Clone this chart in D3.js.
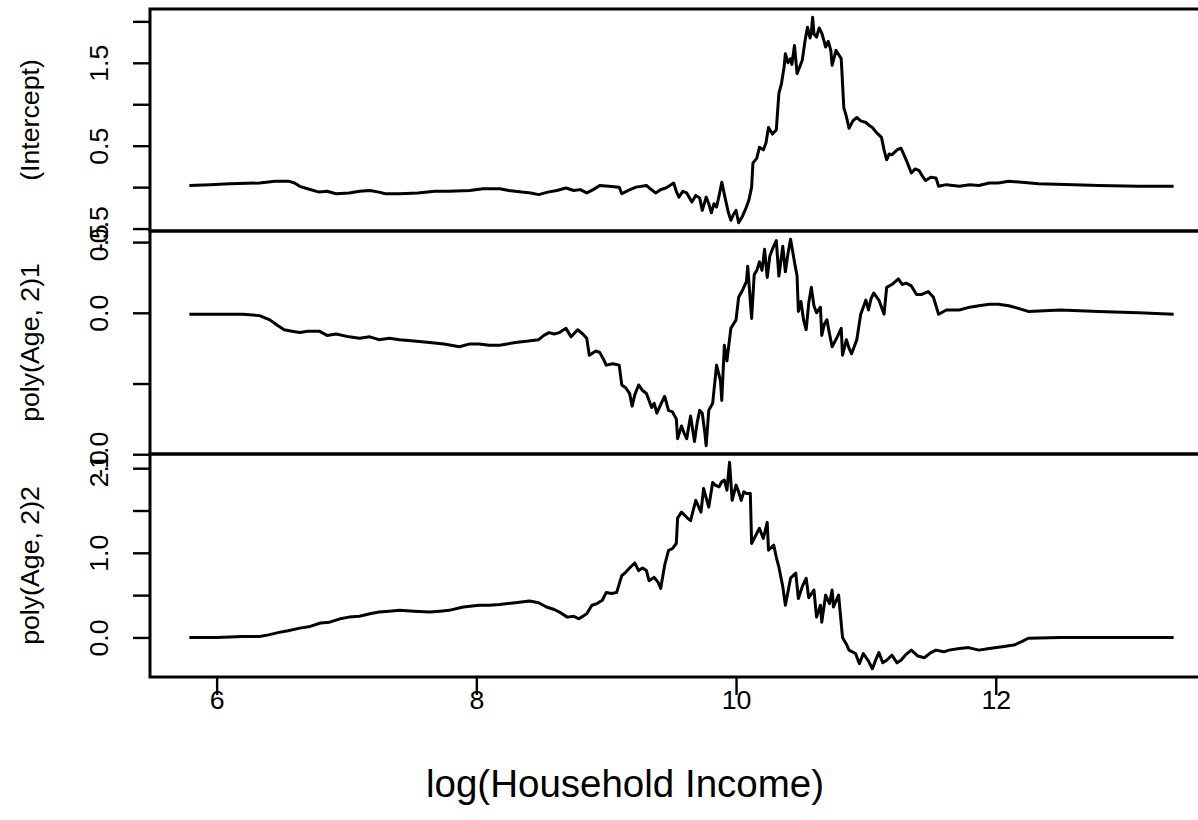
<!DOCTYPE html>
<html>
<head>
<meta charset="utf-8">
<script src="https://cdn.jsdelivr.net/npm/d3@7"></script>
<style>
  body { margin: 0; background: #fff; }
  text { font-family: "Liberation Sans", Arial, sans-serif; fill: #000; }
</style>
</head>
<body>
<div id="chart"></div>
<script>
// coefficient paths against log(Household Income), three stacked panels

const xTicks = [6, 8, 10, 12];

const interceptX = [5.79, 5.95, 6.10, 6.33, 6.45, 6.56, 6.60, 6.64, 6.70, 6.79, 6.85, 6.92, 7.02, 7.10, 7.18, 7.25, 7.30, 7.41, 7.55, 7.68,
  7.79, 7.95, 8.05, 8.18, 8.25, 8.35, 8.42, 8.48, 8.55, 8.62, 8.69, 8.75, 8.80, 8.85, 8.90, 8.95, 9.02, 9.10, 9.12, 9.17,
  9.23, 9.31, 9.34, 9.38, 9.42, 9.46, 9.52, 9.54, 9.56, 9.59, 9.62, 9.66, 9.69, 9.72, 9.74, 9.77, 9.79, 9.81, 9.83, 9.85,
  9.87, 9.89, 9.92, 9.94, 9.96, 9.98, 10.00, 10.02, 10.05, 10.08, 10.10, 10.12, 10.13, 10.16, 10.18, 10.21, 10.23, 10.25, 10.28, 10.31,
  10.33, 10.35, 10.37, 10.38, 10.40, 10.42, 10.43, 10.45, 10.47, 10.49, 10.51, 10.53, 10.55, 10.57, 10.58, 10.59, 10.60, 10.62, 10.64, 10.66,
  10.68, 10.69, 10.71, 10.73, 10.74, 10.77, 10.79, 10.81, 10.83, 10.85, 10.87, 10.90, 10.93, 10.96, 11.00, 11.03, 11.05, 11.08, 11.12, 11.14,
  11.16, 11.18, 11.20, 11.24, 11.27, 11.29, 11.31, 11.33, 11.35, 11.38, 11.41, 11.44, 11.46, 11.50, 11.54, 11.56, 11.62, 11.72, 11.80, 11.87,
  11.95, 12.02, 12.10, 12.20, 12.33, 12.60, 12.79, 13.10, 13.37];
const interceptY = [0.02, 0.03, 0.04, 0.05, 0.07, 0.07, 0.05, 0.01, -0.02, -0.06, -0.05, -0.08, -0.07, -0.05, -0.04, -0.06, -0.08, -0.08, -0.07, -0.05,
  -0.05, -0.04, -0.02, -0.02, -0.04, -0.06, -0.07, -0.09, -0.06, -0.04, -0.01, -0.04, -0.03, -0.07, -0.03, 0.02, 0.01, 0.00, -0.08, -0.04,
  0.00, 0.02, -0.02, -0.07, -0.03, -0.01, 0.05, -0.05, -0.12, -0.05, -0.07, -0.18, -0.10, -0.13, -0.28, -0.12, -0.20, -0.31, -0.20, -0.24,
  -0.10, 0.06, -0.16, -0.30, -0.40, -0.33, -0.28, -0.43, -0.35, -0.24, -0.15, 0.00, 0.29, 0.35, 0.48, 0.45, 0.53, 0.72, 0.64, 0.69,
  1.13, 1.25, 1.45, 1.61, 1.50, 1.55, 1.48, 1.71, 1.37, 1.45, 1.53, 1.75, 1.93, 1.80, 1.86, 2.05, 1.85, 1.81, 1.92, 1.86,
  1.75, 1.69, 1.76, 1.65, 1.47, 1.65, 1.60, 1.55, 0.96, 0.85, 0.71, 0.80, 0.84, 0.80, 0.78, 0.74, 0.72, 0.66, 0.60, 0.45,
  0.33, 0.40, 0.39, 0.45, 0.47, 0.40, 0.33, 0.25, 0.17, 0.22, 0.20, 0.12, 0.08, 0.12, 0.11, 0.01, 0.03, 0.01, 0.03, 0.02,
  0.05, 0.05, 0.07, 0.06, 0.04, 0.03, 0.02, 0.01, 0.01];

const age1X = [5.79, 6.00, 6.20, 6.33, 6.41, 6.47, 6.52, 6.58, 6.64, 6.70, 6.79, 6.85, 6.92, 7.02, 7.10, 7.18, 7.25, 7.33, 7.41, 7.52,
  7.64, 7.75, 7.87, 7.95, 8.02, 8.10, 8.18, 8.30, 8.40, 8.48, 8.52, 8.56, 8.60, 8.64, 8.69, 8.73, 8.78, 8.82, 8.85, 8.87,
  8.92, 8.95, 8.98, 9.00, 9.05, 9.10, 9.12, 9.15, 9.18, 9.20, 9.22, 9.25, 9.28, 9.31, 9.35, 9.37, 9.39, 9.42, 9.45, 9.48,
  9.51, 9.54, 9.55, 9.58, 9.60, 9.62, 9.65, 9.68, 9.70, 9.72, 9.74, 9.76, 9.77, 9.79, 9.82, 9.85, 9.88, 9.89, 9.91, 9.93,
  9.96, 10.00, 10.02, 10.05, 10.08, 10.09, 10.12, 10.14, 10.16, 10.18, 10.20, 10.22, 10.24, 10.26, 10.28, 10.31, 10.33, 10.36, 10.38, 10.40,
  10.42, 10.45, 10.47, 10.48, 10.50, 10.52, 10.54, 10.56, 10.58, 10.60, 10.62, 10.65, 10.66, 10.68, 10.70, 10.72, 10.74, 10.78, 10.81, 10.82,
  10.85, 10.87, 10.89, 10.93, 10.96, 10.98, 11.00, 11.02, 11.04, 11.06, 11.10, 11.14, 11.16, 11.20, 11.25, 11.28, 11.31, 11.35, 11.39, 11.43,
  11.48, 11.52, 11.56, 11.62, 11.72, 11.80, 11.87, 11.95, 12.02, 12.10, 12.18, 12.25, 12.50, 12.79, 13.10, 13.37];
const age1Y = [-0.01, -0.01, -0.01, -0.02, -0.05, -0.09, -0.12, -0.13, -0.14, -0.13, -0.13, -0.16, -0.15, -0.17, -0.18, -0.17, -0.19, -0.18, -0.19, -0.20,
  -0.21, -0.22, -0.24, -0.22, -0.22, -0.23, -0.23, -0.21, -0.20, -0.19, -0.16, -0.14, -0.15, -0.14, -0.11, -0.17, -0.12, -0.15, -0.18, -0.30,
  -0.27, -0.28, -0.33, -0.37, -0.36, -0.37, -0.51, -0.53, -0.57, -0.66, -0.58, -0.51, -0.55, -0.57, -0.67, -0.64, -0.71, -0.65, -0.59, -0.69,
  -0.70, -0.75, -0.89, -0.80, -0.85, -0.89, -0.73, -0.91, -0.78, -0.69, -0.71, -0.85, -0.94, -0.69, -0.64, -0.37, -0.48, -0.62, -0.23, -0.34,
  -0.11, -0.05, 0.11, 0.16, 0.22, 0.33, -0.04, 0.27, 0.30, 0.36, 0.30, 0.45, 0.25, 0.40, 0.45, 0.51, 0.26, 0.47, 0.29, 0.42,
  0.52, 0.36, 0.26, 0.01, 0.08, -0.05, -0.12, 0.07, 0.18, 0.05, 0.00, 0.04, -0.16, -0.08, -0.05, -0.15, -0.24, -0.17, -0.11, -0.30,
  -0.19, -0.25, -0.29, -0.19, -0.01, 0.04, 0.09, 0.02, 0.10, 0.14, 0.09, -0.01, 0.18, 0.20, 0.24, 0.20, 0.21, 0.19, 0.13, 0.13,
  0.15, 0.11, -0.01, 0.02, 0.02, 0.04, 0.05, 0.06, 0.06, 0.05, 0.03, 0.01, 0.02, 0.01, 0.00, -0.01];

const age2X = [5.79, 6.00, 6.20, 6.33, 6.40, 6.48, 6.55, 6.64, 6.72, 6.80, 6.87, 6.95, 7.02, 7.10, 7.18, 7.25, 7.33, 7.41, 7.52, 7.64,
  7.72, 7.79, 7.90, 8.02, 8.10, 8.18, 8.30, 8.41, 8.48, 8.54, 8.60, 8.64, 8.70, 8.75, 8.79, 8.85, 8.89, 8.93, 8.97, 9.00,
  9.04, 9.08, 9.12, 9.15, 9.18, 9.22, 9.25, 9.28, 9.31, 9.33, 9.37, 9.40, 9.42, 9.45, 9.48, 9.51, 9.54, 9.55, 9.58, 9.62,
  9.65, 9.67, 9.69, 9.71, 9.73, 9.75, 9.77, 9.79, 9.82, 9.84, 9.87, 9.89, 9.91, 9.93, 9.95, 9.97, 10.00, 10.02, 10.04, 10.06,
  10.08, 10.11, 10.12, 10.15, 10.18, 10.21, 10.24, 10.25, 10.29, 10.31, 10.33, 10.36, 10.38, 10.42, 10.46, 10.48, 10.51, 10.54, 10.56, 10.60,
  10.62, 10.65, 10.66, 10.69, 10.72, 10.74, 10.75, 10.79, 10.82, 10.85, 10.87, 10.92, 10.95, 10.98, 11.02, 11.05, 11.08, 11.10, 11.13, 11.16,
  11.20, 11.24, 11.27, 11.31, 11.35, 11.40, 11.45, 11.50, 11.54, 11.60, 11.64, 11.72, 11.79, 11.87, 11.95, 12.05, 12.14, 12.20, 12.25, 12.50,
  12.79, 13.10, 13.37];
const age2Y = [0.00, 0.00, 0.01, 0.01, 0.03, 0.06, 0.08, 0.11, 0.13, 0.17, 0.18, 0.22, 0.24, 0.25, 0.28, 0.30, 0.31, 0.32, 0.31, 0.30,
  0.31, 0.32, 0.36, 0.38, 0.38, 0.39, 0.41, 0.43, 0.41, 0.36, 0.33, 0.30, 0.24, 0.25, 0.22, 0.28, 0.38, 0.40, 0.44, 0.53,
  0.52, 0.53, 0.73, 0.77, 0.82, 0.88, 0.79, 0.82, 0.79, 0.67, 0.71, 0.65, 0.58, 0.85, 1.03, 1.05, 1.11, 1.41, 1.48, 1.42,
  1.38, 1.50, 1.62, 1.55, 1.48, 1.76, 1.65, 1.54, 1.83, 1.80, 1.78, 1.84, 1.86, 1.74, 2.07, 1.62, 1.80, 1.72, 1.62, 1.72,
  1.70, 1.70, 1.11, 1.20, 1.29, 1.17, 1.36, 1.03, 1.09, 0.95, 0.83, 0.60, 0.38, 0.70, 0.76, 0.46, 0.60, 0.70, 0.47, 0.56,
  0.24, 0.38, 0.18, 0.50, 0.40, 0.56, 0.36, 0.50, 0.00, -0.08, -0.15, -0.19, -0.31, -0.19, -0.28, -0.37, -0.25, -0.18, -0.30, -0.27,
  -0.21, -0.30, -0.27, -0.20, -0.15, -0.22, -0.24, -0.18, -0.15, -0.17, -0.15, -0.13, -0.12, -0.15, -0.13, -0.11, -0.09, -0.05, -0.01, 0.00,
  0.00, 0.00, 0.00];

const panelNames = ["(Intercept)", "poly(Age, 2)1", "poly(Age, 2)2"];
const panelTicks = [
  [-0.5, 0, 0.5, 1, 1.5, 2],
  [-1, -0.5, 0, 0.5],
  [0, 0.5, 1, 1.5, 2]
];
const panelTickLabels = [
  ["-0.5", "0.5", "1.5"],
  ["-1.0", "0.0", "0.5"],
  ["0.0", "1.0", "2.0"]
];

const series = [
  { x: interceptX, y: interceptY },
  { x: age1X, y: age1Y },
  { x: age2X, y: age2Y }
];

const width = 1198, height = 820;
const plotLeft = 150, plotRight = 1213;
const panelEdges = [9, 231, 454, 677];
const fs = 26.7;

const svg = d3.select("#chart").append("svg")
  .attr("width", width)
  .attr("height", height);

// R style: 4% padding around the data range
const pad = ext => { const d = (ext[1] - ext[0]) * 0.04; return [ext[0] - d, ext[1] + d]; };

const allX = d3.merge(series.map(s => s.x));
const xScale = d3.scaleLinear()
  .domain(pad(d3.extent(allX)))
  .range([plotLeft, plotRight]);

series.forEach((s, i) => {
  const top = panelEdges[i], bottom = panelEdges[i + 1];
  const yScale = d3.scaleLinear()
    .domain(pad(d3.extent(s.y)))
    .range([bottom, top]);

  const pts = s.x.map((v, j) => [v, s.y[j]]);
  const line = d3.line()
    .x(d => xScale(d[0]))
    .y(d => yScale(d[1]));

  svg.append("path")
    .datum(pts)
    .attr("fill", "none")
    .attr("stroke", "#000")
    .attr("stroke-width", 3)
    .attr("stroke-linejoin", "round")
    .attr("d", line);

  // y axis
  const yAxis = d3.axisLeft(yScale)
    .tickValues(panelTicks[i])
    .tickSize(17)
    .tickFormat(d => {
      const lab = d3.format(".1f")(d).replace("−", "-");
      return panelTickLabels[i].includes(lab) ? lab : "";
    });

  const g = svg.append("g")
    .attr("transform", `translate(${plotLeft},0)`)
    .call(yAxis);
  g.select(".domain").remove();
  g.selectAll(".tick line").attr("stroke", "#000").attr("stroke-width", 2.4);
  g.selectAll(".tick text")
    .attr("font-size", fs)
    .attr("font-family", "Liberation Sans, Arial, sans-serif")
    .attr("text-anchor", "middle")
    .attr("x", null).attr("dy", null)
    .attr("transform", "translate(-42,0) rotate(-90)");

  svg.append("rect")
    .attr("x", plotLeft)
    .attr("y", top)
    .attr("width", plotRight - plotLeft)
    .attr("height", bottom - top)
    .attr("fill", "none")
    .attr("stroke", "#000")
    .attr("stroke-width", 3);

  svg.append("text")
    .attr("transform", `translate(39,${(top + bottom) / 2}) rotate(-90)`)
    .attr("text-anchor", "middle")
    .attr("font-size", fs)
    .text(panelNames[i]);
});

// x axis
const xAxis = d3.axisBottom(xScale)
  .tickValues(xTicks)
  .tickSize(18)
  .tickPadding(14)
  .tickFormat(d3.format("d"));

const gx = svg.append("g")
  .attr("transform", `translate(0,${panelEdges[3]})`)
  .call(xAxis);
gx.select(".domain").remove();
gx.selectAll(".tick line").attr("stroke", "#000").attr("stroke-width", 2.4);
gx.selectAll(".tick text")
  .attr("font-size", fs)
  .attr("font-family", "Liberation Sans, Arial, sans-serif")
  .attr("dy", null)
  .attr("y", 32);

svg.append("text")
  .attr("x", 625)
  .attr("y", 797)
  .attr("text-anchor", "middle")
  .attr("font-size", 38.5)
  .text("log(Household Income)");
</script>
</body>
</html>
